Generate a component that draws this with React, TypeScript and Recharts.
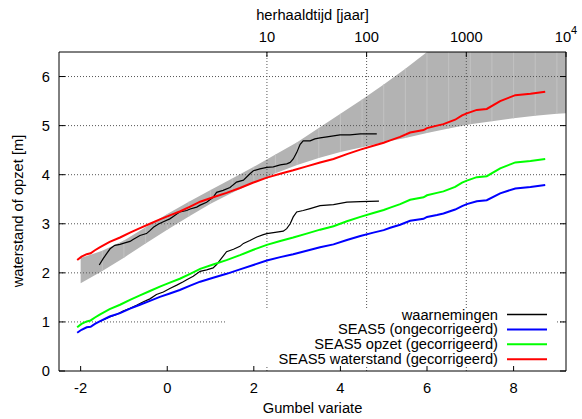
import React from 'react';
import { ComposedChart, Area, Line, XAxis, YAxis, ReferenceLine } from 'recharts';

// SEAS5 ensemble, plotted against the Gumbel variate
const seasX = [
  -2.08, -1.98, -1.86, -1.77, -1.67, -1.56, -1.33, -1.09, -0.86, -0.63, -0.4, -0.17, 0.06, 0.29, 0.53, 0.76,
  1.06, 1.37, 1.68, 1.99, 2.3, 2.61, 2.91, 3.22, 3.53, 3.84, 4.15, 4.46, 4.76, 5.0, 5.15, 5.38, 5.61, 5.92,
  6.0, 6.23, 6.38, 6.65, 6.81, 6.92, 7.15, 7.38, 7.69, 8.04, 8.39, 8.73,
];
const seasWaterstand = [
  2.26, 2.33, 2.38, 2.4, 2.46, 2.52, 2.63, 2.72, 2.82, 2.91, 3.0, 3.09, 3.17, 3.25, 3.35, 3.45,
  3.54, 3.63, 3.73, 3.84, 3.94, 4.02, 4.09, 4.17, 4.25, 4.32, 4.42, 4.51, 4.59, 4.65, 4.7, 4.77, 4.86, 4.91,
  4.95, 5.0, 5.03, 5.12, 5.21, 5.25, 5.32, 5.34, 5.5, 5.62, 5.65, 5.69,
];
const seasOpzet = [
  0.89, 0.96, 1.01, 1.03, 1.09, 1.15, 1.26, 1.35, 1.45, 1.54, 1.63, 1.72, 1.8, 1.88, 1.98, 2.08,
  2.17, 2.26, 2.36, 2.47, 2.57, 2.65, 2.72, 2.8, 2.88, 2.95, 3.05, 3.14, 3.22, 3.28, 3.33, 3.4, 3.49, 3.54,
  3.58, 3.63, 3.66, 3.75, 3.84, 3.88, 3.95, 3.97, 4.13, 4.25, 4.28, 4.32,
];
const seasOngecorrigeerd = [
  0.78, 0.84, 0.89, 0.9, 0.96, 1.01, 1.11, 1.18, 1.27, 1.35, 1.43, 1.51, 1.58, 1.65, 1.74, 1.82,
  1.9, 1.98, 2.07, 2.16, 2.25, 2.32, 2.38, 2.45, 2.52, 2.58, 2.67, 2.75, 2.82, 2.87, 2.92, 2.98, 3.06, 3.1,
  3.14, 3.18, 3.21, 3.29, 3.36, 3.4, 3.46, 3.48, 3.62, 3.72, 3.75, 3.79,
];

// observed annual maxima
const obsWaterstandX = [
  -1.57, -1.48, -1.4, -1.32, -1.21, -1.09, -0.98, -0.86, -0.79, -0.63, -0.48, -0.4, -0.32, -0.21, -0.09, 0.06,
  0.14, 0.22, 0.29, 0.45, 0.53, 0.68, 0.76, 0.91, 1.06, 1.14, 1.29, 1.45, 1.6, 1.76, 1.91, 1.99, 2.14, 2.3,
  2.45, 2.61, 2.76, 2.84, 2.91, 2.99, 3.07, 3.14, 3.3, 3.41, 3.53, 3.69, 3.84, 3.99, 4.22, 4.46, 4.84,
];
const obsWaterstand = [
  2.16, 2.29, 2.39, 2.49, 2.56, 2.58, 2.61, 2.64, 2.68, 2.76, 2.8, 2.86, 2.93, 2.99, 3.04, 3.1,
  3.15, 3.2, 3.24, 3.27, 3.3, 3.34, 3.38, 3.44, 3.54, 3.64, 3.68, 3.74, 3.85, 3.89, 4.02, 4.08, 4.12, 4.15,
  4.16, 4.2, 4.22, 4.25, 4.32, 4.45, 4.62, 4.69, 4.69, 4.73, 4.75, 4.77, 4.79, 4.81, 4.81, 4.83, 4.83,
];
const obsOpzetX = [
  -1.56, -1.33, -1.17, -1.02, -0.86, -0.71, -0.55, -0.4, -0.25, -0.09, 0.06, 0.22, 0.37, 0.45, 0.6, 0.76,
  0.91, 1.06, 1.14, 1.22, 1.37, 1.53, 1.68, 1.76, 1.91, 2.07, 2.22, 2.3, 2.53, 2.68, 2.76, 2.84, 2.91, 2.99,
  3.14, 3.3, 3.53, 3.84, 4.15, 4.46, 4.89,
];
const obsOpzet = [
  1.01, 1.1, 1.15, 1.22, 1.28, 1.34, 1.41, 1.47, 1.56, 1.61, 1.68, 1.75, 1.82, 1.86, 1.93, 2.03,
  2.06, 2.1, 2.17, 2.26, 2.43, 2.48, 2.54, 2.6, 2.66, 2.73, 2.78, 2.8, 2.83, 2.85, 2.9, 3.0, 3.14, 3.24,
  3.27, 3.31, 3.37, 3.39, 3.44, 3.45, 3.46,
];

// confidence band of the fitted distribution
const bandX = [-2.0, -1.5, -1.0, -0.5, 0.0, 0.5, 1.0, 1.5, 2.0, 2.5, 3.0, 3.5, 4.0, 4.5, 5.0, 5.5, 6.0, 6.5, 7.0, 7.5, 8.0, 8.5, 9.0, 9.21];
const bandLow = [1.79, 2.04, 2.31, 2.6, 2.88, 3.15, 3.41, 3.63, 3.84, 4.03, 4.2, 4.34, 4.46, 4.56, 4.66, 4.75, 4.85, 4.94, 5.03, 5.09, 5.15, 5.2, 5.24, 5.25];
const bandHigh = [2.3, 2.45, 2.66, 2.93, 3.2, 3.45, 3.69, 3.92, 4.16, 4.41, 4.66, 4.95, 5.24, 5.53, 5.84, 6.16, 6.5, 6.85, 7.2, 7.55, 7.9, 8.25, 8.6, 8.75];

const xTicks = [-2, 0, 2, 4, 6, 8];
const yTicks = [0, 1, 2, 3, 4, 5, 6];
const yGrid = [1, 2, 3, 4, 5, 6];
const returnPeriods = [10, 100, 1000, 10000];
const returnPeriodLabels = ['10', '100', '1000', '10^4'];

const legendLabels = ['waarnemingen', 'SEAS5 (ongecorrigeerd)', 'SEAS5 opzet (gecorrigeerd)', 'SEAS5 waterstand (gecorrigeerd)'];
const legendColors = ['#000000', '#0000ff', '#00ff00', '#ff0000'];

const FONT = "'Liberation Sans', Arial, Helvetica, sans-serif";
const FS = 14.7;
const X_MIN = -2.5;
const X_MAX = Math.log(10000);

const toRows = (xs: number[], ys: number[]) => xs.map((x, i) => ({ x, y: ys[i] }));

const bandRows = bandX.map((x, i) => ({ x, range: [bandLow[i], bandHigh[i]] }));
const redRows = toRows(seasX, seasWaterstand);
const greenRows = toRows(seasX, seasOpzet);
const blueRows = toRows(seasX, seasOngecorrigeerd);
const obsHighRows = toRows(obsWaterstandX, obsWaterstand);
const obsLowRows = toRows(obsOpzetX, obsOpzet);

const txt = { fontFamily: FONT, fontSize: FS, fill: '#000' };

function BottomTick({ x, y, payload }: any) {
  return (
    <g>
      <line x1={x} y1={y} x2={x} y2={y - 5} stroke="#000" />
      <text x={x} y={y + 17} textAnchor="middle" dominantBaseline="central" {...txt}>
        {payload.value}
      </text>
    </g>
  );
}

function TopTick({ x, y, index }: any) {
  const label = returnPeriodLabels[index];
  const [base, exp] = label.split('^');
  return (
    <g>
      <line x1={x} y1={y} x2={x} y2={y + 5} stroke="#000" />
      <text x={x} y={y - 15} textAnchor="middle" dominantBaseline="central" {...txt}>
        {base}
        {exp && (
          <tspan dy={-7} fontSize={11}>
            {exp}
          </tspan>
        )}
      </text>
    </g>
  );
}

function LeftTick({ x, y, payload }: any) {
  return (
    <g>
      <line x1={x} y1={y} x2={x + 6} y2={y} stroke="#000" />
      <text x={x - 9} y={y} textAnchor="end" dominantBaseline="central" {...txt}>
        {payload.value}
      </text>
    </g>
  );
}

function RightTick({ x, y }: any) {
  return <line x1={x} y1={y} x2={x - 6} y2={y} stroke="#000" />;
}

// opaque key box in the lower right corner of the plot
function LegendBox() {
  return (
    <div style={{ position: 'absolute', left: 225, top: 308, width: 331, height: 58, background: '#fff' }}>
      <svg width={331} height={58} style={{ display: 'block', overflow: 'visible' }}>
        {legendLabels.map((label, i) => {
          const cy = 6.5 + i * 14.9;
          return (
            <g key={label}>
              <text x={273} y={cy} textAnchor="end" dominantBaseline="central" {...txt}>
                {label}
              </text>
              <line x1={282} x2={322} y1={cy} y2={cy} stroke={legendColors[i]} strokeWidth={i === 0 ? 1.5 : 2} />
            </g>
          );
        })}
      </svg>
    </div>
  );
}

export default function App() {
  return (
    <div style={{ position: 'absolute', left: 0, top: 0, width: 582, height: 419, background: '#fff' }}>
      <ComposedChart width={582} height={419} data={bandRows} margin={{ top: 0, right: 0, bottom: 0, left: 0 }}>
        <XAxis
          xAxisId="bottom"
          dataKey="x"
          type="number"
          domain={[X_MIN, X_MAX]}
          allowDataOverflow
          ticks={xTicks}
          interval={0}
          height={48}
          tickLine={false}
          tickSize={0}
          tickMargin={0}
          axisLine={{ stroke: '#000' }}
          tick={BottomTick}
          label={() => (
            <text x={312.5} y={408} textAnchor="middle" dominantBaseline="central" {...txt}>
              Gumbel variate
            </text>
          )}
        />
        <XAxis
          xAxisId="top"
          orientation="top"
          dataKey="x"
          type="number"
          domain={[X_MIN, X_MAX]}
          allowDataOverflow
          ticks={returnPeriods.map((t) => Math.log(t))}
          interval={0}
          height={52}
          tickLine={false}
          tickSize={0}
          tickMargin={0}
          axisLine={{ stroke: '#000' }}
          tick={TopTick}
          label={() => (
            <text x={312.5} y={15} textAnchor="middle" dominantBaseline="central" {...txt}>
              herhaaldtijd [jaar]
            </text>
          )}
        />
        <YAxis
          yAxisId="left"
          type="number"
          domain={[0, 6.5]}
          allowDataOverflow
          ticks={yTicks}
          interval={0}
          width={59}
          tickLine={false}
          tickSize={0}
          tickMargin={0}
          axisLine={{ stroke: '#000' }}
          tick={LeftTick}
          label={() => (
            <text
              x={18}
              y={211}
              transform="rotate(-90 18 211)"
              textAnchor="middle"
              dominantBaseline="central"
              {...txt}
            >
              waterstand of opzet [m]
            </text>
          )}
        />
        <YAxis
          yAxisId="right"
          orientation="right"
          type="number"
          domain={[0, 6.5]}
          allowDataOverflow
          ticks={yTicks}
          interval={0}
          width={16}
          tickLine={false}
          tickSize={0}
          tickMargin={0}
          axisLine={{ stroke: '#000' }}
          tick={RightTick}
        />

        <Area
          xAxisId="bottom"
          yAxisId="left"
          dataKey="range"
          type="linear"
          stroke="none"
          fill="#b3b3b3"
          fillOpacity={1}
          isAnimationActive={false}
        />
        {bandX.slice(1, -1).map((x, i) => (
          <ReferenceLine
            key={`seam-${x}`}
            xAxisId="bottom"
            yAxisId="left"
            segment={[
              { x, y: bandLow[i + 1] },
              { x, y: bandHigh[i + 1] },
            ]}
            stroke="#c2c2c2"
            strokeWidth={1}
            ifOverflow="hidden"
          />
        ))}

        {yGrid.map((v) => (
          <ReferenceLine key={`gy-${v}`} xAxisId="bottom" yAxisId="left" y={v} stroke="#555" strokeDasharray="1 2" />
        ))}
        {returnPeriods.slice(0, 3).map((t) => (
          <ReferenceLine key={`gx-${t}`} xAxisId="bottom" yAxisId="left" x={Math.log(t)} stroke="#555" strokeDasharray="1 2" />
        ))}

        <Line data={obsHighRows} xAxisId="bottom" yAxisId="left" dataKey="y" type="linear" stroke="#000" strokeWidth={1.2} dot={false} isAnimationActive={false} />
        <Line data={obsLowRows} xAxisId="bottom" yAxisId="left" dataKey="y" type="linear" stroke="#000" strokeWidth={1.2} dot={false} isAnimationActive={false} />
        <Line data={blueRows} xAxisId="bottom" yAxisId="left" dataKey="y" type="linear" stroke="#0000ff" strokeWidth={2} dot={false} isAnimationActive={false} />
        <Line data={greenRows} xAxisId="bottom" yAxisId="left" dataKey="y" type="linear" stroke="#00ff00" strokeWidth={2} dot={false} isAnimationActive={false} />
        <Line data={redRows} xAxisId="bottom" yAxisId="left" dataKey="y" type="linear" stroke="#ff0000" strokeWidth={2} dot={false} isAnimationActive={false} />
      </ComposedChart>
      <LegendBox />
    </div>
  );
}
